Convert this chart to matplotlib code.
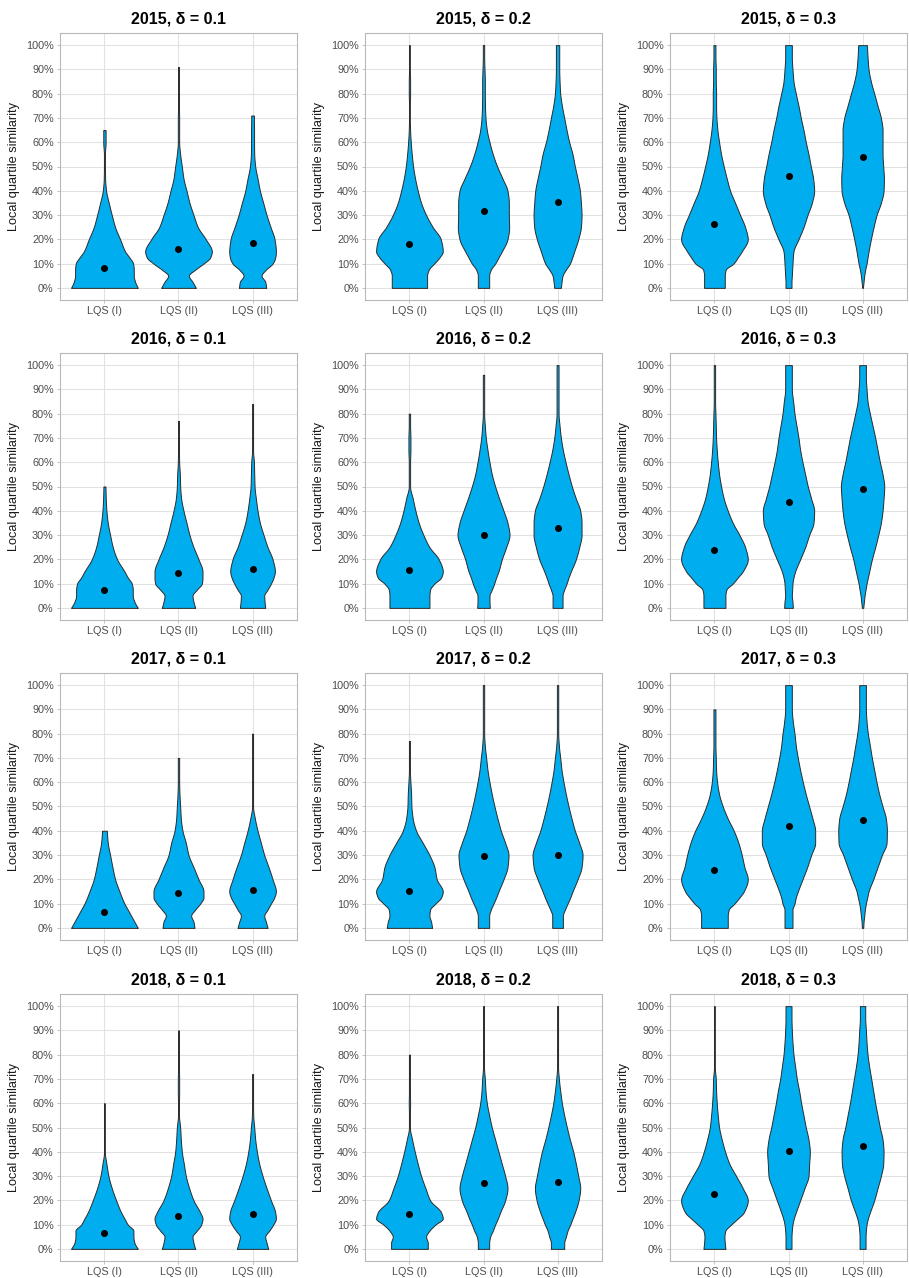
import numpy as np
import matplotlib
matplotlib.use("Agg")
import matplotlib.pyplot as plt

plt.rcParams["font.family"] = ["Liberation Sans", "DejaVu Sans"]

# ---------------------------------------------------------------------------
# Data
# ---------------------------------------------------------------------------
YEARS = [2015, 2016, 2017, 2018]
DELTAS = [0.1, 0.2, 0.3]
CATEGORIES = ["LQS (I)", "LQS (II)", "LQS (III)"]
Y_TICKS = [0, 10, 20, 30, 40, 50, 60, 70, 80, 90, 100]
Y_TICK_LABELS = [f"{t}%" for t in Y_TICKS]

# similarity levels (%) at which the violin half-widths are given
LEVELS = [0, 2.5, 5, 7.5, 10, 12.5, 15, 20, 25, 30, 35, 40, 45, 50,
          55, 60, 65, 70, 75, 80, 85, 90, 95, 100]

# relative half-width of each violin at LEVELS (1 = widest violin in a panel)
WIDTH_2015_D01 = [
    [1.0, 0.92, 0.88, 0.88, 0.86, 0.75, 0.62, 0.47, 0.32, 0.22, 0.13, 0.05, 0.02, 0.015, 0.015, 0.035, 0.035],
    [0.52, 0.42, 0.31, 0.5, 0.75, 0.95, 1.0, 0.82, 0.58, 0.45, 0.33, 0.24, 0.15, 0.1, 0.05, 0.02, 0.02, 0.02, 0.012, 0.012, 0.012, 0.012],
    [0.41, 0.38, 0.27, 0.4, 0.6, 0.68, 0.7, 0.66, 0.54, 0.42, 0.32, 0.22, 0.15, 0.08, 0.05, 0.045, 0.045, 0.04, 0.04],
]
WIDTH_2015_D02 = [
    [0.53, 0.53, 0.53, 0.58, 0.74, 0.9, 1.0, 0.94, 0.7, 0.5, 0.35, 0.25, 0.17, 0.11, 0.07, 0.04, 0.02, 0.012, 0.012, 0.02, 0.02, 0.012, 0.012, 0.012],
    [0.17, 0.17, 0.17, 0.22, 0.35, 0.45, 0.55, 0.72, 0.77, 0.76, 0.76, 0.72, 0.57, 0.41, 0.28, 0.18, 0.1, 0.06, 0.045, 0.04, 0.04, 0.03, 0.02, 0.02],
    [0.1, 0.12, 0.15, 0.25, 0.37, 0.44, 0.5, 0.62, 0.7, 0.72, 0.7, 0.67, 0.6, 0.52, 0.45, 0.35, 0.27, 0.2, 0.13, 0.08, 0.06, 0.05, 0.05, 0.05],
]
WIDTH_2015_D03 = [
    [0.31, 0.31, 0.31, 0.34, 0.57, 0.7, 0.82, 1.0, 0.92, 0.77, 0.62, 0.47, 0.37, 0.28, 0.2, 0.14, 0.09, 0.06, 0.05, 0.05, 0.04, 0.04, 0.03, 0.03],
    [0.09, 0.09, 0.1, 0.11, 0.12, 0.13, 0.15, 0.3, 0.45, 0.57, 0.7, 0.77, 0.74, 0.67, 0.6, 0.52, 0.45, 0.37, 0.3, 0.22, 0.15, 0.12, 0.1, 0.1],
    [0.01, 0.03, 0.05, 0.08, 0.12, 0.15, 0.18, 0.25, 0.33, 0.42, 0.55, 0.63, 0.64, 0.62, 0.6, 0.6, 0.6, 0.55, 0.45, 0.35, 0.25, 0.18, 0.15, 0.13],
]
WIDTH_2016_D01 = [
    [1.0, 0.9, 0.85, 0.85, 0.82, 0.7, 0.6, 0.38, 0.25, 0.17, 0.1, 0.06, 0.04, 0.03],
    [0.5, 0.45, 0.42, 0.55, 0.7, 0.72, 0.72, 0.6, 0.45, 0.33, 0.24, 0.15, 0.08, 0.05, 0.04, 0.02, 0.015, 0.015, 0.015, 0.015],
    [0.38, 0.36, 0.35, 0.45, 0.55, 0.63, 0.67, 0.6, 0.45, 0.33, 0.22, 0.15, 0.1, 0.06, 0.05, 0.04, 0.015, 0.015, 0.015, 0.015, 0.015],
]
WIDTH_2016_D02 = [
    [0.6, 0.6, 0.6, 0.62, 0.75, 0.95, 1.0, 0.88, 0.6, 0.42, 0.28, 0.18, 0.1, 0.02, 0.02, 0.02, 0.03, 0.03, 0.02, 0.02],
    [0.19, 0.18, 0.18, 0.25, 0.32, 0.38, 0.45, 0.55, 0.68, 0.78, 0.72, 0.6, 0.47, 0.35, 0.25, 0.18, 0.12, 0.07, 0.04, 0.02, 0.02, 0.02, 0.02, 0.02],
    [0.15, 0.15, 0.15, 0.2, 0.27, 0.33, 0.4, 0.55, 0.65, 0.72, 0.72, 0.68, 0.55, 0.43, 0.33, 0.24, 0.16, 0.1, 0.06, 0.03, 0.03, 0.03, 0.03, 0.03],
]
WIDTH_2016_D03 = [
    [0.33, 0.33, 0.33, 0.36, 0.55, 0.7, 0.85, 1.0, 0.92, 0.75, 0.55, 0.4, 0.28, 0.2, 0.14, 0.1, 0.07, 0.05, 0.04, 0.03, 0.02, 0.02, 0.02, 0.02],
    [0.13, 0.12, 0.1, 0.11, 0.12, 0.15, 0.2, 0.35, 0.5, 0.62, 0.75, 0.77, 0.68, 0.58, 0.5, 0.42, 0.35, 0.3, 0.24, 0.18, 0.14, 0.1, 0.1, 0.1],
    [0.02, 0.04, 0.06, 0.09, 0.12, 0.16, 0.2, 0.28, 0.38, 0.47, 0.55, 0.6, 0.63, 0.65, 0.6, 0.52, 0.45, 0.38, 0.3, 0.22, 0.15, 0.12, 0.1, 0.1],
]
WIDTH_2017_D01 = [
    [1.0, 0.9, 0.8, 0.7, 0.6, 0.52, 0.45, 0.32, 0.24, 0.17, 0.1, 0.07],
    [0.48, 0.45, 0.38, 0.5, 0.65, 0.75, 0.75, 0.6, 0.45, 0.3, 0.22, 0.12, 0.07, 0.05, 0.03, 0.02, 0.02, 0.02],
    [0.45, 0.4, 0.35, 0.45, 0.55, 0.65, 0.7, 0.6, 0.48, 0.35, 0.25, 0.15, 0.07, 0.015, 0.015, 0.015, 0.015, 0.015, 0.015, 0.015],
]
WIDTH_2017_D02 = [
    [0.68, 0.65, 0.6, 0.62, 0.78, 0.95, 1.0, 0.82, 0.75, 0.6, 0.4, 0.2, 0.1, 0.06, 0.05, 0.03, 0.015, 0.015, 0.015, 0.015],
    [0.17, 0.17, 0.17, 0.22, 0.3, 0.38, 0.45, 0.6, 0.72, 0.75, 0.65, 0.52, 0.42, 0.33, 0.25, 0.18, 0.12, 0.08, 0.04, 0.02, 0.02, 0.02, 0.02, 0.02],
    [0.16, 0.16, 0.16, 0.22, 0.3, 0.38, 0.45, 0.6, 0.72, 0.75, 0.65, 0.52, 0.42, 0.33, 0.25, 0.18, 0.12, 0.08, 0.04, 0.02, 0.02, 0.02, 0.02, 0.02],
]
WIDTH_2017_D03 = [
    [0.4, 0.4, 0.4, 0.43, 0.6, 0.75, 0.88, 1.0, 0.9, 0.82, 0.72, 0.58, 0.4, 0.25, 0.14, 0.08, 0.05, 0.04, 0.03, 0.03, 0.03, 0.03],
    [0.12, 0.12, 0.12, 0.12, 0.18, 0.22, 0.28, 0.42, 0.56, 0.68, 0.8, 0.8, 0.72, 0.62, 0.52, 0.43, 0.35, 0.28, 0.22, 0.18, 0.13, 0.1, 0.1, 0.1],
    [0.02, 0.03, 0.05, 0.07, 0.1, 0.14, 0.18, 0.32, 0.45, 0.58, 0.72, 0.73, 0.7, 0.6, 0.5, 0.42, 0.35, 0.28, 0.22, 0.16, 0.12, 0.1, 0.1, 0.1],
]
WIDTH_2018_D01 = [
    [1.0, 0.9, 0.87, 0.87, 0.7, 0.6, 0.5, 0.35, 0.22, 0.12, 0.06, 0.012, 0.012, 0.012, 0.012, 0.012],
    [0.5, 0.45, 0.42, 0.55, 0.68, 0.72, 0.65, 0.45, 0.32, 0.22, 0.16, 0.1, 0.07, 0.05, 0.015, 0.015, 0.02, 0.02, 0.012, 0.012, 0.012, 0.012],
    [0.47, 0.42, 0.38, 0.5, 0.62, 0.7, 0.68, 0.55, 0.42, 0.3, 0.2, 0.13, 0.08, 0.05, 0.02, 0.015, 0.015, 0.015, 0.015],
]
WIDTH_2018_D02 = [
    [0.55, 0.55, 0.5, 0.6, 0.78, 1.0, 0.95, 0.62, 0.48, 0.35, 0.25, 0.16, 0.08, 0.015, 0.015, 0.02, 0.015, 0.015, 0.015, 0.015],
    [0.17, 0.17, 0.2, 0.28, 0.35, 0.43, 0.5, 0.65, 0.72, 0.65, 0.55, 0.45, 0.35, 0.25, 0.17, 0.1, 0.06, 0.04, 0.015, 0.015, 0.015, 0.015, 0.015, 0.015],
    [0.2, 0.2, 0.25, 0.3, 0.38, 0.45, 0.52, 0.63, 0.68, 0.62, 0.55, 0.47, 0.37, 0.28, 0.2, 0.13, 0.08, 0.04, 0.015, 0.015, 0.015, 0.015, 0.015, 0.015],
]
WIDTH_2018_D03 = [
    [0.33, 0.31, 0.3, 0.33, 0.5, 0.7, 0.88, 1.0, 0.85, 0.65, 0.45, 0.32, 0.22, 0.14, 0.1, 0.07, 0.05, 0.04, 0.012, 0.012, 0.012, 0.012, 0.012, 0.012],
    [0.09, 0.09, 0.09, 0.1, 0.12, 0.16, 0.22, 0.35, 0.48, 0.6, 0.62, 0.64, 0.6, 0.52, 0.45, 0.38, 0.32, 0.25, 0.2, 0.15, 0.12, 0.1, 0.09, 0.09],
    [0.09, 0.09, 0.09, 0.1, 0.12, 0.16, 0.22, 0.35, 0.45, 0.55, 0.62, 0.63, 0.6, 0.52, 0.45, 0.38, 0.32, 0.26, 0.2, 0.15, 0.12, 0.1, 0.08, 0.08],
]

# maximum observed value (%) of each violin
TOP_2015 = [[65, 91, 71], [100, 100, 100], [100, 100, 100]]
TOP_2016 = [[50, 77, 84], [80, 96, 100], [100, 100, 100]]
TOP_2017 = [[40, 70, 80], [77, 100, 100], [90, 100, 100]]
TOP_2018 = [[60, 90, 72], [80, 100, 100], [100, 100, 100]]

# mean similarity (%) shown as a dot
MEAN_2015 = [[8.0, 16.0, 18.5], [18.0, 31.5, 35.5], [26.5, 46.0, 54.0]]
MEAN_2016 = [[7.5, 14.5, 16.0], [15.5, 30.0, 33.0], [24.0, 43.5, 49.0]]
MEAN_2017 = [[6.5, 14.5, 15.5], [15.0, 29.5, 30.0], [24.0, 42.0, 44.5]]
MEAN_2018 = [[6.5, 13.5, 14.5], [14.5, 27.0, 27.5], [22.5, 40.5, 42.5]]

WIDTHS = {
    2015: [WIDTH_2015_D01, WIDTH_2015_D02, WIDTH_2015_D03],
    2016: [WIDTH_2016_D01, WIDTH_2016_D02, WIDTH_2016_D03],
    2017: [WIDTH_2017_D01, WIDTH_2017_D02, WIDTH_2017_D03],
    2018: [WIDTH_2018_D01, WIDTH_2018_D02, WIDTH_2018_D03],
}
TOPS = {2015: TOP_2015, 2016: TOP_2016, 2017: TOP_2017, 2018: TOP_2018}
MEANS = {2015: MEAN_2015, 2016: MEAN_2016, 2017: MEAN_2017, 2018: MEAN_2018}

# ---------------------------------------------------------------------------
# Helpers
# ---------------------------------------------------------------------------
FILL = "#00AEEF"
EDGE = "#2B2B2B"
GRID = "#E2E2E2"
BORDER = "#B8B8B8"
TEXT = "#4D4D4D"
MAX_HALF = 0.45  # half of the violin width in category units


def pchip(x, y, xn):
    """Monotone piecewise-cubic Hermite curve through (x, y)."""
    x = np.asarray(x, float)
    y = np.asarray(y, float)
    h = np.diff(x)
    d = np.diff(y) / h
    m = np.zeros_like(y)
    m[0], m[-1] = d[0], d[-1]
    for k in range(1, len(x) - 1):
        if d[k - 1] * d[k] > 0:
            w1 = 2 * h[k] + h[k - 1]
            w2 = h[k] + 2 * h[k - 1]
            m[k] = (w1 + w2) / (w1 / d[k - 1] + w2 / d[k])
    idx = np.clip(np.searchsorted(x, xn, side="right") - 1, 0, len(x) - 2)
    t = (xn - x[idx]) / h[idx]
    h00 = 2 * t**3 - 3 * t**2 + 1
    h10 = t**3 - 2 * t**2 + t
    h01 = -2 * t**3 + 3 * t**2
    h11 = t**3 - t**2
    return (h00 * y[idx] + h10 * h[idx] * m[idx]
            + h01 * y[idx + 1] + h11 * h[idx] * m[idx + 1])


def draw_violin(ax, pos, widths, top):
    levels = LEVELS[:len(widths)]
    w = list(widths)
    if levels[-1] < top:
        levels = LEVELS[:len(w) + 1]
        w = w + [w[-1]]
    yy = np.linspace(0, top, 500)
    hw = np.clip(pchip(levels, w, yy), 0.006, None) * MAX_HALF
    ax.fill_betweenx(yy, pos - hw, pos + hw, facecolor=FILL,
                     edgecolor=EDGE, linewidth=0.7, zorder=3)


# ---------------------------------------------------------------------------
# Figure
# ---------------------------------------------------------------------------
W_PX, H_PX = 909, 1278
fig = plt.figure(figsize=(W_PX / 100, H_PX / 100), dpi=100)
fig.patch.set_facecolor("white")

COL_LEFT = [60, 365, 670]
ROW_TOP = [33, 353, 673, 994]
AX_W, AX_H = 237, 267

positions = np.arange(1, len(CATEGORIES) + 1)

for r, year in enumerate(YEARS):
    for c, delta in enumerate(DELTAS):
        ax = fig.add_axes([COL_LEFT[c] / W_PX,
                           1 - (ROW_TOP[r] + AX_H) / H_PX,
                           AX_W / W_PX, AX_H / H_PX])
        ax.set_xlim(0.4, 3.6)
        ax.set_ylim(-5, 105)
        ax.set_yticks(Y_TICKS)
        ax.set_yticklabels(Y_TICK_LABELS)
        ax.set_xticks(positions)
        ax.set_xticklabels(CATEGORIES)
        ax.grid(True, color=GRID, linewidth=0.8, zorder=0)
        ax.set_axisbelow(True)
        for sp in ax.spines.values():
            sp.set_color(BORDER)
            sp.set_linewidth(0.8)
        ax.tick_params(axis="both", length=2.5, width=0.6, color=BORDER,
                       labelsize=7.8, labelcolor=TEXT, pad=2)

        widths = WIDTHS[year][c]
        tops = TOPS[year][c]
        means = MEANS[year][c]
        for i, pos in enumerate(positions):
            draw_violin(ax, pos, widths[i], tops[i])
        ax.plot(positions, means, linestyle="none", marker="o",
                markersize=4.0, color="black", zorder=4)

        ax.set_title(f"{year}, δ = {delta}", fontsize=11.5, fontweight="bold",
                     pad=6.5)
        ax.set_ylabel("Local quartile similarity", fontsize=9.2,
                      color="#1A1A1A")
        ax.yaxis.set_label_coords(-0.17, 0.5)

fig.savefig("out.png", dpi=100, facecolor="white")
